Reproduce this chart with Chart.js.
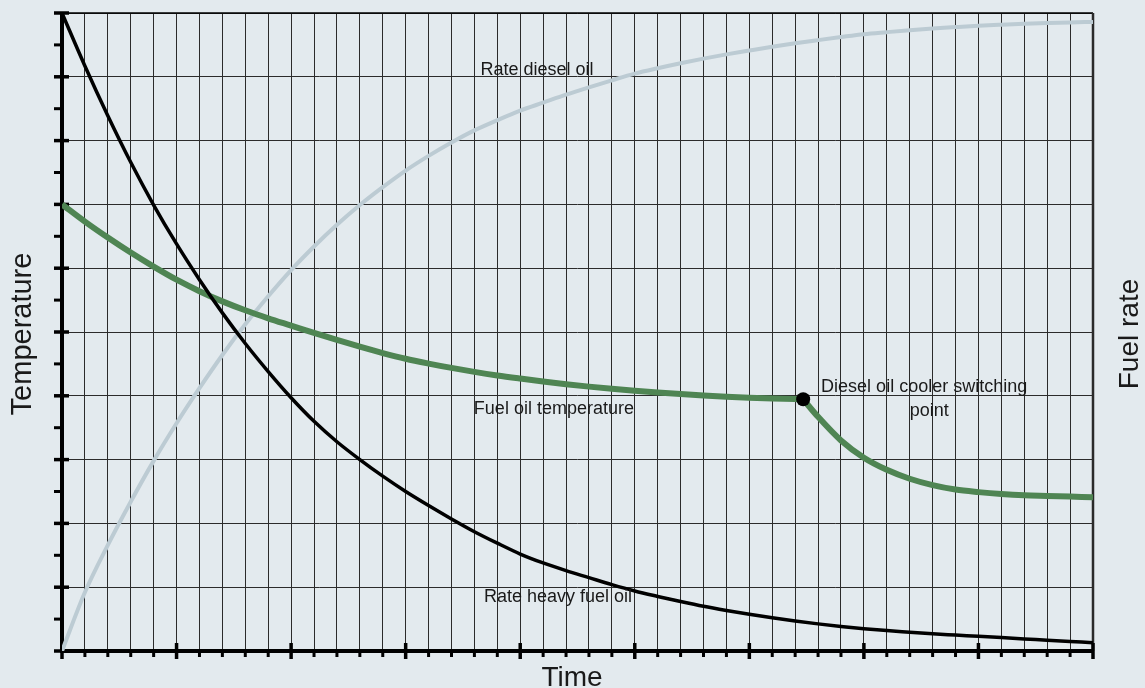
<!DOCTYPE html>
<html>
<head>
<meta charset="utf-8">
<script src="https://cdn.jsdelivr.net/npm/chart.js@4"></script>
<style>
  html, body { margin: 0; padding: 0; background: #e3eaee; }
  #fuelChart { display: block; }
</style>
</head>
<body>
<canvas id="fuelChart" width="1145" height="688"></canvas>
<script>
// time axis: one step per minor grid column
const timeSteps = [0, 1, 2, 3, 4, 5, 6, 7, 8, 9, 10, 11, 12, 13, 14, 15, 16, 17, 18, 19, 20, 21, 22,
    23, 24, 25, 26, 27, 28, 29, 30, 31, 32, 33, 34, 35, 36, 37, 38, 39, 40, 41, 42, 43, 44, 45];

const rateHeavyFuelOil = [10, 9.17, 8.39, 7.66, 6.99, 6.38, 5.82, 5.3, 4.82, 4.38, 3.97, 3.6, 3.28,
    3.0, 2.74, 2.5, 2.28, 2.07, 1.87, 1.69, 1.52, 1.38, 1.26, 1.15, 1.04, 0.94, 0.855, 0.775, 0.7,
    0.635, 0.575, 0.52, 0.47, 0.425, 0.385, 0.35, 0.32, 0.295, 0.27, 0.25, 0.23, 0.21, 0.19, 0.17,
    0.15, 0.13];

const rateDieselOil = [0, 0.92, 1.66, 2.34, 2.98, 3.57, 4.12, 4.64, 5.12, 5.56, 5.97, 6.34, 6.68,
    6.99, 7.27, 7.53, 7.76, 7.97, 8.16, 8.32, 8.47, 8.595, 8.72, 8.835, 8.945, 9.05, 9.135, 9.213,
    9.285, 9.351, 9.411, 9.47, 9.525, 9.575, 9.623, 9.668, 9.7, 9.73, 9.756, 9.779, 9.8, 9.816,
    9.83, 9.842, 9.852, 9.86];

// fuel oil temperature, before and after the cooler switches
const tempTimesBefore = [0, 1, 2, 3, 4, 5, 6, 7, 8, 9, 10, 11, 12, 13, 14, 15, 16, 17, 18, 19, 20,
    21, 22, 23, 24, 25, 26, 27, 28, 29, 30, 31, 32, 32.35];
const fuelOilTempBefore = [7.0, 6.73, 6.48, 6.245, 6.025, 5.82, 5.64, 5.48, 5.34, 5.215, 5.1, 4.985,
    4.875, 4.77, 4.67, 4.58, 4.505, 4.437, 4.375, 4.319, 4.27, 4.224, 4.182, 4.144, 4.11, 4.08,
    4.052, 4.027, 4.005, 3.986, 3.97, 3.958, 3.948, 3.945];
const tempTimesAfter = [32.35, 33, 34, 35, 36, 37, 38, 39, 40, 41, 42, 43, 44, 45];
const fuelOilTempAfter = [3.945, 3.67, 3.3, 3.03, 2.84, 2.7, 2.6, 2.53, 2.49, 2.46, 2.44, 2.43, 2.42, 2.41];

const switchTime = [32.35];
const switchTemp = [3.945];

const toPoints = (xs, ys) => xs.map((x, i) => ({ x: x, y: ys[i] }));

// text labels placed in data units
const curveLabels = [
    { text: 'Rate diesel oil', x: 20.73, y: 9.11 },
    { text: 'Fuel oil temperature', x: 21.47, y: 3.79 },
    { text: 'Rate heavy fuel oil', x: 21.65, y: 0.85 },
    { text: 'Diesel oil cooler switching', x: 37.63, y: 4.14 },
    { text: 'point', x: 37.85, y: 3.76 }
];

const axisDecor = {
    id: 'axisDecor',
    beforeDatasetsDraw(chart) {
        const { ctx, chartArea: a, scales: { x, y } } = chart;
        ctx.save();
        ctx.strokeStyle = '#000';
        ctx.lineCap = 'butt';

        // top and right frame
        ctx.lineWidth = 1.5;
        ctx.beginPath();
        ctx.moveTo(a.left, a.top);
        ctx.lineTo(a.right, a.top);
        ctx.stroke();
        ctx.strokeStyle = '#2a2a2a';
        ctx.lineWidth = 2.5;
        ctx.beginPath();
        ctx.moveTo(a.right, a.top);
        ctx.lineTo(a.right, a.bottom);
        ctx.stroke();

        // main axes
        ctx.strokeStyle = '#000';
        ctx.lineWidth = 4;
        ctx.beginPath();
        ctx.moveTo(a.left, a.top - 1);
        ctx.lineTo(a.left, a.bottom + 2);
        ctx.moveTo(a.left - 2, a.bottom);
        ctx.lineTo(a.right + 1, a.bottom);
        ctx.stroke();

        // y ticks, half steps
        for (let v = 0; v <= 10; v += 0.5) {
            const py = y.getPixelForValue(v);
            const major = Number.isInteger(v);
            ctx.lineWidth = major ? 3.5 : 3;
            ctx.beginPath();
            ctx.moveTo(a.left - 8, py);
            ctx.lineTo(major ? a.left + 7 : a.left, py);
            ctx.stroke();
        }

        // x ticks
        timeSteps.forEach(t => {
            const px = x.getPixelForValue(t);
            const major = t % 5 === 0;
            ctx.lineWidth = major ? 3.5 : 3;
            ctx.beginPath();
            ctx.moveTo(px, major ? a.bottom - 8 : a.bottom);
            ctx.lineTo(px, a.bottom + (major ? 8 : 6));
            ctx.stroke();
        });
        ctx.restore();
    },
    afterDatasetsDraw(chart) {
        const { ctx, scales: { x, y } } = chart;
        ctx.save();
        ctx.fillStyle = '#1a1a1a';
        ctx.textAlign = 'center';
        ctx.textBaseline = 'middle';
        ctx.font = '18px "Liberation Sans", Arial, sans-serif';
        curveLabels.forEach(l => {
            ctx.fillText(l.text, x.getPixelForValue(l.x), y.getPixelForValue(l.y));
        });

        ctx.textBaseline = 'alphabetic';
        ctx.font = '28px "Liberation Sans", Arial, sans-serif';
        ctx.fillText('Time', 572, 686);

        ctx.font = '29px "Liberation Sans", Arial, sans-serif';
        ctx.translate(31, 334);
        ctx.rotate(-Math.PI / 2);
        ctx.fillText('Temperature', 0, 0);
        ctx.setTransform(1, 0, 0, 1, 0, 0);

        ctx.font = '28px "Liberation Sans", Arial, sans-serif';
        ctx.translate(1138, 334);
        ctx.rotate(-Math.PI / 2);
        ctx.fillText('Fuel rate', 0, 0);
        ctx.restore();
    }
};

const lineStyle = {
    pointRadius: 0,
    fill: false,
    cubicInterpolationMode: 'monotone'
};

new Chart(document.getElementById('fuelChart'), {
    type: 'line',
    data: {
        datasets: [
            {
                label: 'Switching point',
                data: toPoints(switchTime, switchTemp),
                showLine: false,
                pointRadius: 7,
                pointBackgroundColor: '#000',
                pointBorderWidth: 0
            },
            Object.assign({
                label: 'Rate heavy fuel oil',
                data: toPoints(timeSteps, rateHeavyFuelOil),
                borderColor: '#000000',
                borderWidth: 3.5
            }, lineStyle),
            Object.assign({
                label: 'Fuel oil temperature',
                data: toPoints(tempTimesBefore, fuelOilTempBefore),
                borderColor: '#4f8553',
                borderWidth: 6
            }, lineStyle),
            Object.assign({
                label: 'Fuel oil temperature (cooler)',
                data: toPoints(tempTimesAfter, fuelOilTempAfter),
                borderColor: '#4f8553',
                borderWidth: 6
            }, lineStyle),
            Object.assign({
                label: 'Rate diesel oil',
                data: toPoints(timeSteps, rateDieselOil),
                borderColor: '#bccbd3',
                borderWidth: 4
            }, lineStyle)
        ]
    },
    options: {
        responsive: false,
        devicePixelRatio: 1,
        animation: false,
        layout: { padding: { left: 62, right: 52, top: 13, bottom: 37 } },
        plugins: {
            legend: { display: false },
            tooltip: { enabled: false }
        },
        scales: {
            x: {
                type: 'linear',
                min: 0,
                max: 45,
                ticks: { display: false, stepSize: 1 },
                grid: { color: '#2b2b2b', lineWidth: 1, drawTicks: false },
                border: { display: false },
                afterFit: s => { s.height = 0; }
            },
            y: {
                type: 'linear',
                min: 0,
                max: 10,
                ticks: { display: false, stepSize: 1 },
                grid: { color: '#2b2b2b', lineWidth: 1, drawTicks: false },
                border: { display: false },
                afterFit: s => { s.width = 0; }
            }
        }
    },
    plugins: [axisDecor]
});
</script>
</body>
</html>
